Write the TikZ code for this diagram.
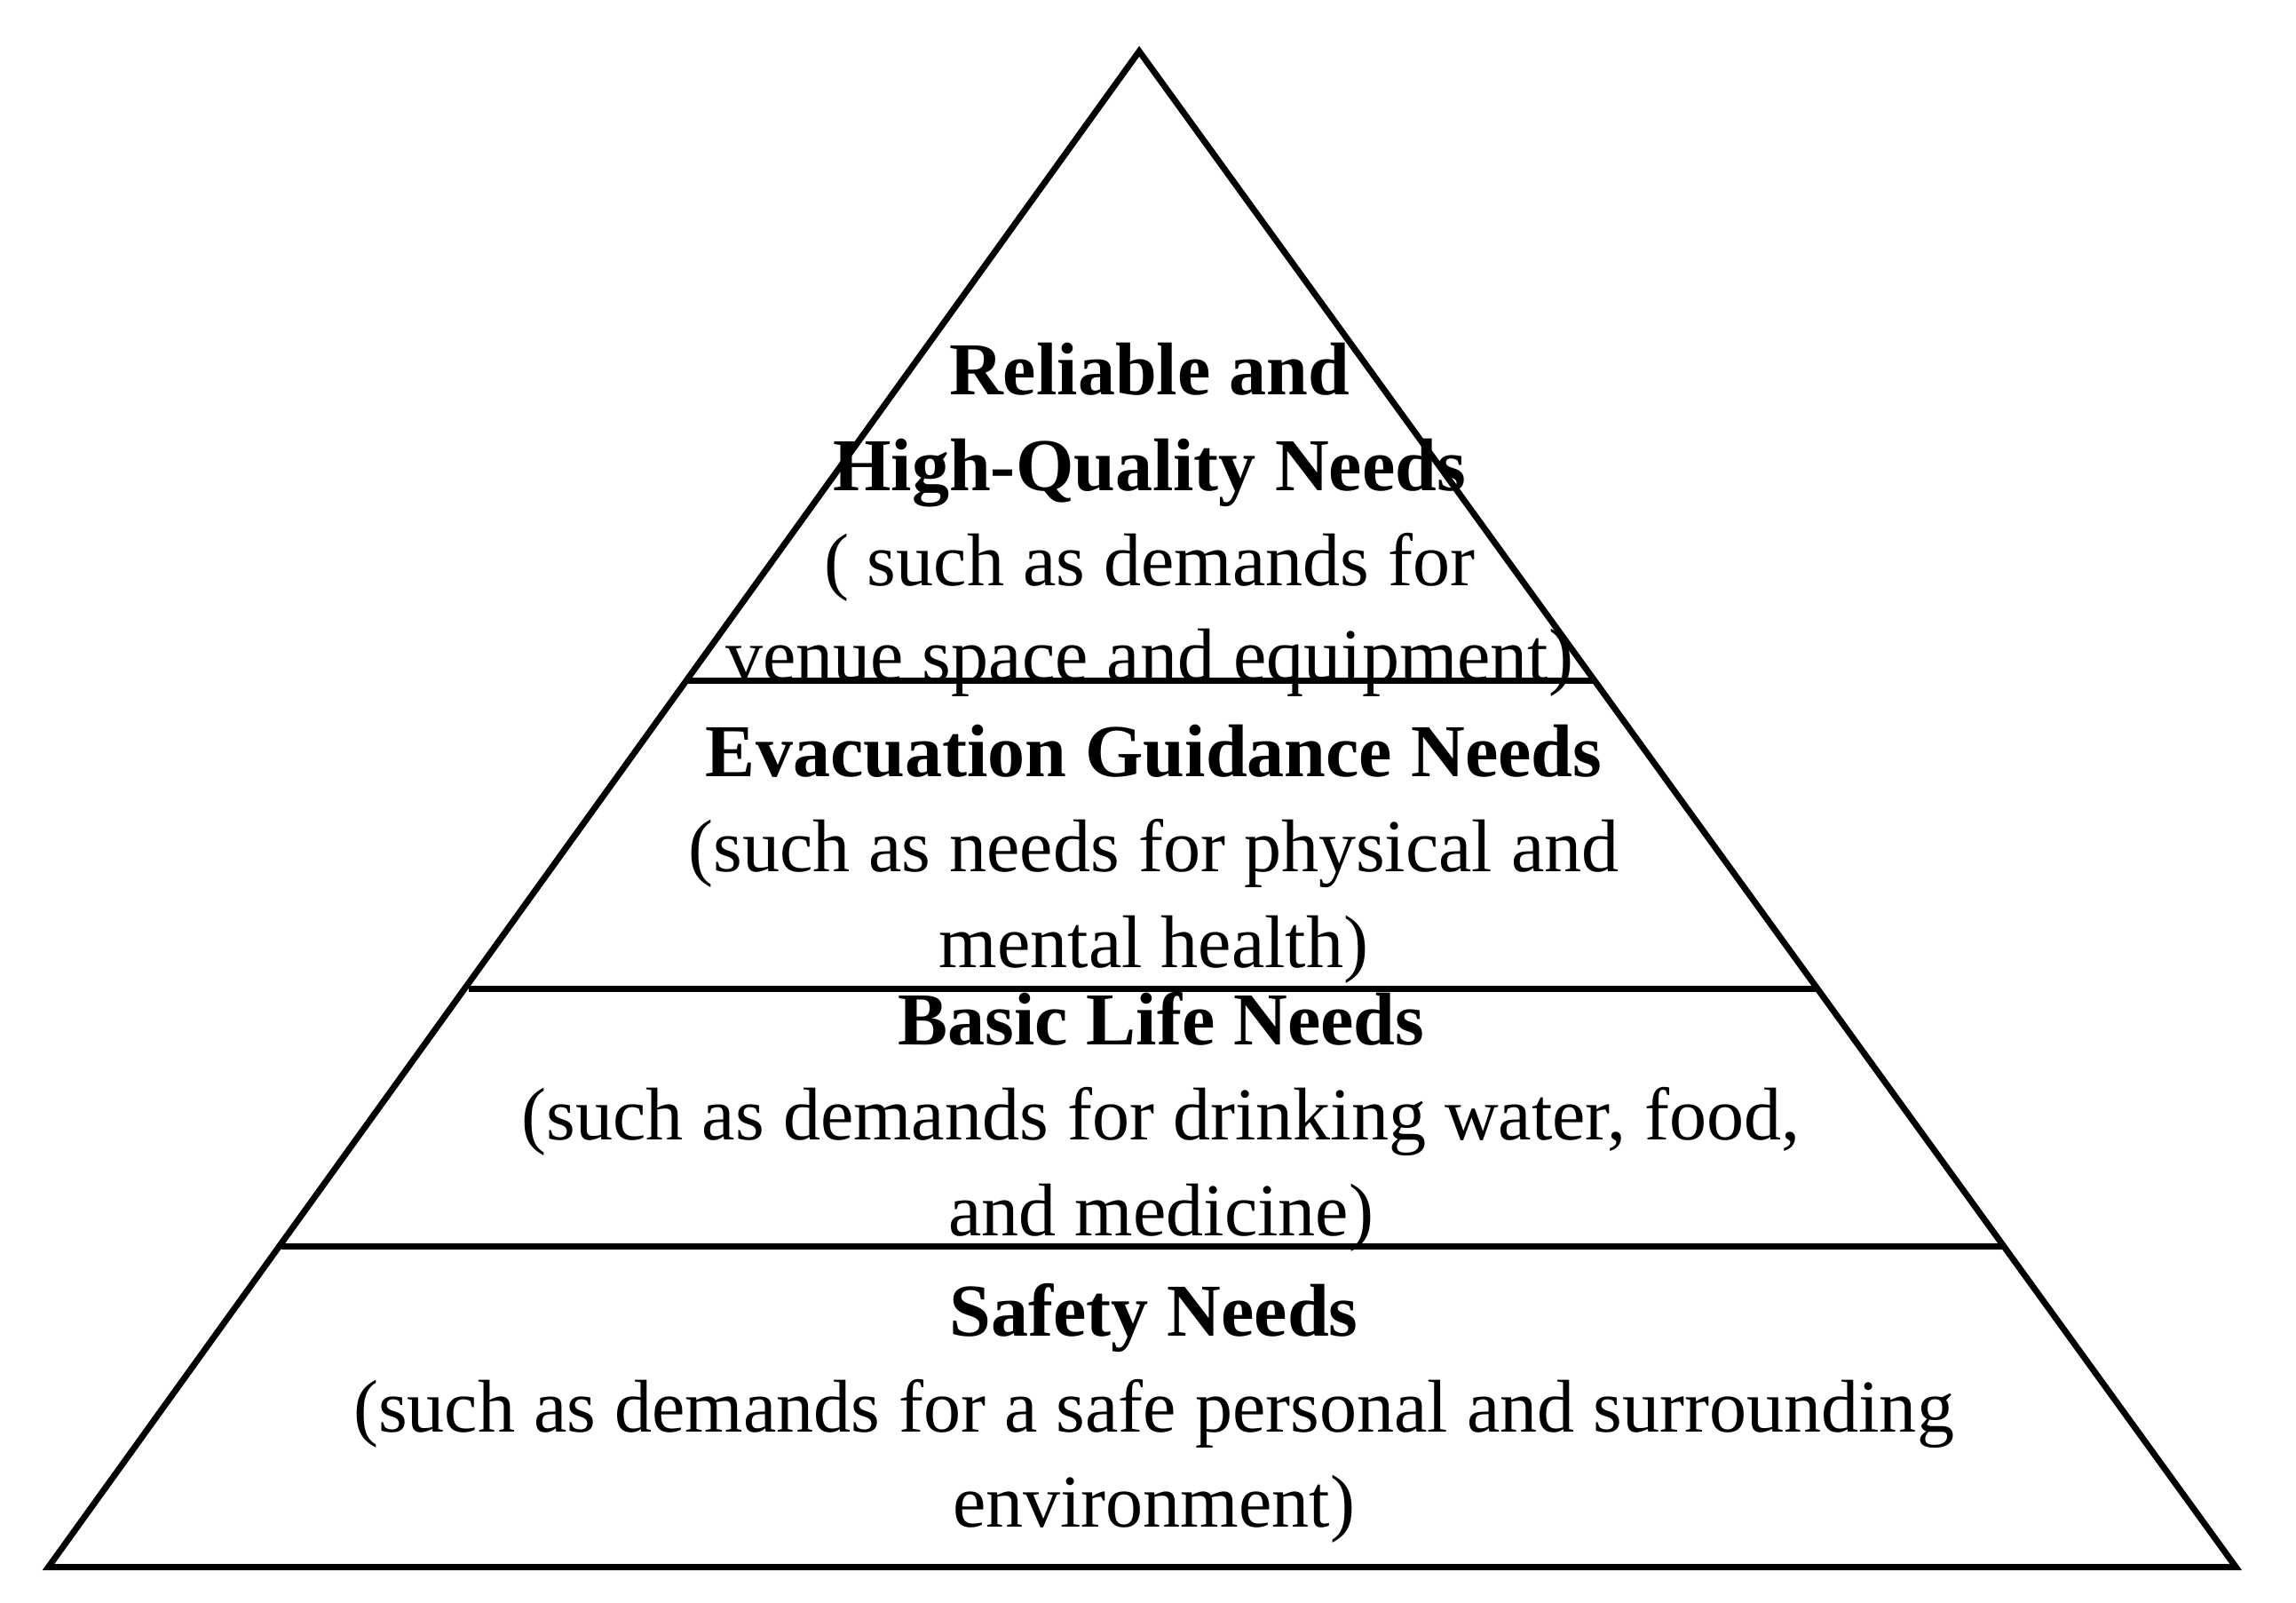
\documentclass[tikz,border=0pt]{standalone}
\usepackage{fontspec}
\setmainfont{Liberation Serif}
\begin{document}
\begin{tikzpicture}[x=0.01cm,y=-0.01cm,
  edge/.style={line width=1.2pt,line join=miter},
  lbl/.style={align=center,font=\fontsize{14.5}{18.5}\selectfont,inner sep=0pt}]
\useasboundingbox (0,0) rectangle (1568,1094);
\coordinate (A) at (778,35);
\coordinate (L) at (33,1070);
\coordinate (R) at (1527,1070);
\draw[edge] (A) -- (L) -- (R) -- cycle;
\coordinate (d1l) at (469,465); \coordinate (d1r) at (1090,465);
\coordinate (d2l) at (320,675); \coordinate (d2r) at (1240,675);
\coordinate (d3l) at (192,851); \coordinate (d3r) at (1367,851);
\draw[edge] (d1l) -- (d1r);
\draw[edge] (d2l) -- (d2r);
\draw[edge] (d3l) -- (d3r);
\node[lbl] (t1) at (785,355) {\textbf{Reliable and}\\\textbf{High-Quality Needs}\\( such as demands for\\venue space and equipment)};
\node[lbl] (t2) at (788,583) {\textbf{Evacuation Guidance Needs}\\(such as needs for physical and\\mental health)};
\node[lbl] (t3) at (793,766) {\textbf{Basic Life Needs}\\(such as demands for drinking water, food,\\and medicine)};
\node[lbl] (t4) at (788,965) {\textbf{Safety Needs}\\(such as demands for a safe personal and surrounding\\environment)};
\end{tikzpicture}
\end{document}
